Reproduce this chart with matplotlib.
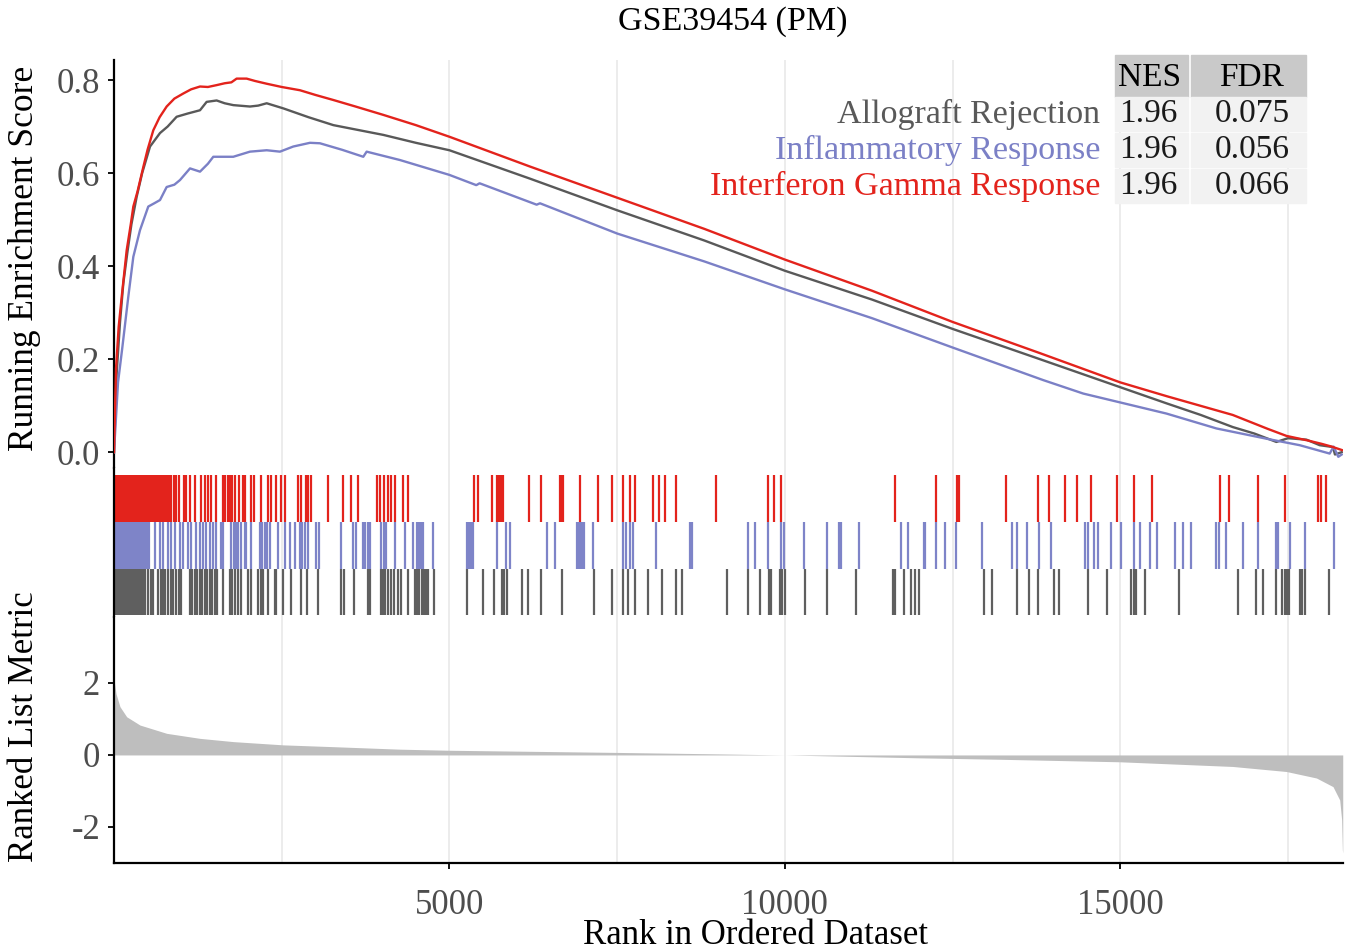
import numpy as np
import matplotlib
matplotlib.use("Agg")
import matplotlib.pyplot as plt
from matplotlib.patches import Rectangle

plt.rcParams['font.family'] = ['Liberation Serif', 'DejaVu Serif']

# running enrichment score curves (rank, ES)
allo_x = [0, 40, 90, 139, 200, 260, 338, 420, 537, 686, 800, 934, 1100, 1282, 1381, 1530,
          1650, 1778, 2027, 2150, 2276, 2524, 2900, 3270, 3766, 4015, 4500, 5000, 6200,
          7500, 8800, 10000, 11300, 12500, 13800, 14993, 15689, 16200, 16677, 17000,
          17327, 17500, 17774, 17973, 18171, 18200, 18300]
allo_y = [0.0, 0.17, 0.28, 0.363, 0.43, 0.49, 0.549, 0.6, 0.657, 0.686, 0.70, 0.721, 0.728,
          0.735, 0.753, 0.756, 0.75, 0.746, 0.743, 0.745, 0.75, 0.739, 0.72, 0.703, 0.689,
          0.682, 0.665, 0.649, 0.588, 0.52, 0.455, 0.39, 0.328, 0.265, 0.2, 0.14, 0.105,
          0.08, 0.054, 0.04, 0.022, 0.03, 0.027, 0.015, 0.011, -0.005, 0.0]

infl_x = [0, 60, 120, 213, 288, 387, 511, 600, 686, 785, 900, 984, 1133, 1282, 1400, 1480,
          1778, 2027, 2276, 2474, 2672, 2921, 3070, 3400, 3716, 3766, 4262, 5000, 5400,
          5450, 6300, 6350, 7500, 8800, 10000, 11300, 12500, 13850, 14448, 15689, 16434,
          17178, 17675, 18122, 18180, 18250, 18300]
infl_y = [0.0, 0.15, 0.22, 0.334, 0.42, 0.477, 0.528, 0.535, 0.542, 0.57, 0.575, 0.585,
          0.61, 0.603, 0.62, 0.635, 0.635, 0.646, 0.649, 0.646, 0.657, 0.665, 0.664, 0.65,
          0.635, 0.646, 0.628, 0.596, 0.574, 0.578, 0.532, 0.535, 0.47, 0.41, 0.35, 0.288,
          0.225, 0.155, 0.126, 0.083, 0.051, 0.029, 0.015, -0.003, 0.012, -0.01, -0.005]

ifng_x = [0, 30, 70, 115, 189, 250, 288, 350, 437, 500, 586, 680, 785, 900, 1033, 1150,
          1282, 1400, 1530, 1650, 1750, 1828, 1977, 2100, 2276, 2500, 2772, 3000, 3270,
          3600, 4015, 4500, 5000, 6200, 7500, 8800, 10000, 11300, 12500, 13800, 15000,
          15700, 16677, 17200, 17477, 17800, 18000, 18150, 18316]
ifng_y = [0.0, 0.18, 0.27, 0.334, 0.434, 0.49, 0.528, 0.56, 0.613, 0.65, 0.692, 0.72,
          0.743, 0.76, 0.771, 0.78, 0.786, 0.785, 0.789, 0.793, 0.795, 0.803, 0.803, 0.798,
          0.792, 0.785, 0.778, 0.768, 0.757, 0.743, 0.725, 0.703, 0.678, 0.614, 0.547,
          0.48, 0.414, 0.347, 0.28, 0.213, 0.15, 0.12, 0.08, 0.05, 0.035, 0.025, 0.018,
          0.012, 0.004]

# gene positions (hits) for each set
ifng_hits = [10, 40, 70, 100, 130, 160, 190, 220, 250, 280, 310, 340, 370, 400, 430, 460,
             490, 520, 550, 580, 610, 640, 670, 700, 730, 760, 790, 820, 850,
             889, 929, 969, 1043, 1078, 1128, 1212, 1302, 1351, 1401, 1451, 1525, 1624,
             1659, 1699, 1724, 1759, 1798, 1858, 1922, 1947, 2047, 2081, 2196, 2295, 2345,
             2419, 2494, 2544, 2742, 2792, 2867, 2892, 2941, 3190, 3413, 3537, 3637, 3925,
             3960, 4025, 4084, 4124, 4184, 4308, 4382,
             5370, 5420, 5629, 5703, 5738, 5768, 5803, 6185, 6364, 6647, 6672, 6697, 6945,
             7209, 7427, 7591, 7690, 7765, 8038, 8128, 8212, 8371, 8967,
             9756, 9831, 9945, 11644, 12250, 12563, 12598, 13294,
             13775, 13939, 14173, 14361, 14570, 14953, 15206, 15479, 16483, 16622, 17054,
             17452, 17948, 17998, 18062]
infl_hits = [10, 40, 70, 100, 130, 160, 190, 220, 250, 280, 310, 340, 370, 400, 430, 460,
             490, 520,
             606, 681, 730, 805, 854, 904, 979, 1028, 1103, 1153, 1227, 1277, 1326, 1376,
             1426, 1475, 1525, 1600, 1624, 1749, 1788, 1823, 1848, 1898, 1947, 1972, 2047,
             2171, 2206, 2246, 2285, 2320, 2444, 2544, 2618, 2693, 2767, 2807, 2842, 2892,
             3016, 3050, 3388, 3562, 3612, 3711, 3746, 3786, 3811, 3984, 4024, 4059, 4183,
             4332, 4456,
             4511, 4546, 4575, 4610, 4759, 5256, 5281, 5306, 5331, 5355, 5703, 5837, 5902,
             6448, 6573, 6896, 6920, 6945, 6970, 7010, 7144, 7591, 7626, 7690, 7740, 8073,
             8585, 8609,
             9448, 9548, 9756, 9945, 9980, 10278, 10626, 10810, 10840, 11108, 11734, 11843,
             12067, 12092, 12250, 12390, 12548, 12946, 13383, 13458, 13607,
             13790, 13974, 14471, 14520, 14605, 14669, 14868, 15017, 15201, 15290, 15439,
             15549, 15812, 15936, 16051, 16433, 16473, 16582, 16831, 17054, 17327, 17352,
             17536, 17750, 18182]
allo_hits = [10, 40, 70, 100, 130, 160, 190, 220, 250, 280, 310, 340, 370, 400,
             432, 467, 507, 546, 581, 656, 695, 730, 765, 805, 844, 879, 929, 964, 1003,
             1128, 1162, 1202, 1242, 1277, 1311, 1351, 1391, 1426, 1461, 1500, 1535, 1624,
             1724, 1759, 1798, 1848, 1898, 1997, 2047, 2146, 2186, 2221, 2295, 2395, 2419,
             2519, 2633, 2792, 2881, 3040, 3388, 3428, 3577, 3786, 3811, 3975, 4009, 4044,
             4084, 4124, 4173, 4233, 4282, 4382, 4481,
             4511, 4546, 4585, 4610, 4635, 4660, 4685, 4774, 5256, 5504, 5668, 5788, 5817,
             5852, 6076, 6165, 6364, 6682, 7159, 7427, 7591, 7656, 7765, 7954, 8162, 8371,
             8470,
             9136, 9448, 9632, 9766, 9796, 9930, 9955, 9995, 10293, 10626, 11058, 11619,
             11644, 11769, 11883, 11933, 12002, 12976, 13085, 13458, 13641,
             13775, 14009, 14088, 14520, 14804, 15166, 15201, 15231, 15365, 15877, 16756,
             17019, 17128, 17327, 17417, 17452, 17486, 17516, 17685, 17715, 17750, 18112]

# ranked list metric
rank_x = [0, 30, 89, 189, 387, 785, 1282, 1778, 2519, 3264, 4262, 5000, 7500, 9000, 10000,
          11000, 12000, 13200, 14993, 16677, 17477, 17924, 18171, 18271, 18300, 18311, 18316]
rank_y = [2.1, 1.7, 1.34, 1.06, 0.83, 0.60, 0.46, 0.37, 0.28, 0.23, 0.16, 0.13, 0.07, 0.03,
          0.0, -0.04, -0.08, -0.12, -0.19, -0.32, -0.46, -0.64, -0.88, -1.25, -1.8, -2.64,
          -2.72]

set_names = ["Allograft Rejection", "Inflammatory Response", "Interferon Gamma Response"]
nes = ["1.96", "1.96", "1.96"]
fdr = ["0.075", "0.056", "0.066"]

gray_c = "#595959"
blue_c = "#7b80c6"
red_c = "#e3231c"

W, H = 1351, 952
fig = plt.figure(figsize=(W / 100, H / 100), dpi=100)


def box(x0, y0, x1, y1):
    # pixel box (top-left origin) -> figure rect
    return [x0 / W, 1 - y1 / H, (x1 - x0) / W, (y1 - y0) / H]


ax1 = fig.add_axes(box(114, 60, 1343, 468))
ax2 = fig.add_axes(box(114, 468, 1343, 617))
ax3 = fig.add_axes(box(114, 617, 1343, 863))

xmax = 18320
for ax in (ax1, ax2, ax3):
    ax.set_xlim(0, xmax)
    ax.set_xticks([5000, 10000, 15000])
    ax.set_xticks([2500, 7500, 12500, 17500], minor=True)
    ax.grid(which="both", axis="x", color="#ebebeb", lw=1.3, zorder=0)
    ax.set_axisbelow(True)
    for s in ("top", "right", "bottom"):
        ax.spines[s].set_visible(False)
    ax.spines["left"].set_linewidth(1.6)
    ax.tick_params(axis="x", which="both", length=0, labelbottom=False)
    ax.tick_params(axis="y", length=4, width=1.3, color="black", labelsize=25,
                   labelcolor="#4d4d4d", pad=6)

# running ES
ax1.plot(allo_x, allo_y, color=gray_c, lw=1.7, zorder=3)
ax1.plot(infl_x, infl_y, color=blue_c, lw=1.7, zorder=3)
ax1.plot(ifng_x, ifng_y, color=red_c, lw=1.7, zorder=4)
ax1.set_ylim(-0.034, 0.843)
ax1.set_yticks([0.0, 0.2, 0.4, 0.6, 0.8])
ax1.set_yticklabels(["0.0", "0.2", "0.4", "0.6", "0.8"])
ax1.set_ylabel("Running Enrichment Score", fontsize=25.5)
ax1.yaxis.set_label_coords(-0.059, 0.515)

# hit ticks
ax2.vlines(allo_hits, 0, 1, color="#5f5f5f", lw=1.6)
ax2.vlines(infl_hits, 1, 2, color="#7e84c8", lw=1.6)
ax2.vlines(ifng_hits, 2, 3, color=red_c, lw=1.6)
ax2.set_ylim(-0.04, 3.16)
ax2.set_yticks([])

# ranked list metric
ax3.fill_between(rank_x, rank_y, 0, color="#bebebe", lw=0, zorder=2)
ax3.set_ylim(-3.0, 3.83)
ax3.set_yticks([-2, 0, 2])
ax3.set_yticklabels(["-2", "0", "2"])
ax3.spines["bottom"].set_visible(True)
ax3.spines["bottom"].set_linewidth(1.6)
ax3.tick_params(axis="x", which="major", length=4, width=1.3, labelbottom=True,
                labelsize=25, labelcolor="#4d4d4d", pad=15)
ax3.set_xticklabels(["5000", "10000", "15000"])
ax3.set_xlabel("Rank in Ordered Dataset", fontsize=25)
ax3.xaxis.set_label_coords(0.522, -0.228)
ax3.set_ylabel("Ranked List Metric", fontsize=25)
ax3.yaxis.set_label_coords(-0.059, 0.553)

fig.text(733 / W, 1 - 22 / H, "GSE39454 (PM)", ha="center", va="center", fontsize=24.5)

# NES / FDR table
fig.patches.append(Rectangle((1115 / W, 1 - 97 / H), 73 / W, 42 / H,
                             transform=fig.transFigure, color="#c9c9c9", zorder=5))
fig.patches.append(Rectangle((1191 / W, 1 - 97 / H), 115 / W, 42 / H,
                             transform=fig.transFigure, color="#c9c9c9", zorder=5))
fig.text(1150 / W, 1 - 78 / H, "NES", ha="center", va="center", fontsize=24, zorder=6)
fig.text(1252 / W, 1 - 78 / H, "FDR", ha="center", va="center", fontsize=24, zorder=6)

name_colors = [gray_c, blue_c, red_c]
for i, (name, n, f) in enumerate(zip(set_names, nes, fdr)):
    yc = 114 + 36 * i
    fig.patches.append(Rectangle((1115 / W, 1 - (yc + 17) / H), 73 / W, 34 / H,
                                 transform=fig.transFigure, color="#f2f2f2", zorder=5))
    fig.patches.append(Rectangle((1191 / W, 1 - (yc + 17) / H), 115 / W, 34 / H,
                                 transform=fig.transFigure, color="#f2f2f2", zorder=5))
    fig.text(1100 / W, 1 - yc / H, name, ha="right", va="center", fontsize=24.5,
             color=name_colors[i], zorder=6)
    fig.text(1148 / W, 1 - yc / H, n, ha="center", va="center", fontsize=24,
             color="#1a1a1a", zorder=6)
    fig.text(1252 / W, 1 - yc / H, f, ha="center", va="center", fontsize=24,
             color="#1a1a1a", zorder=6)

fig.savefig("out.png", dpi=100)
